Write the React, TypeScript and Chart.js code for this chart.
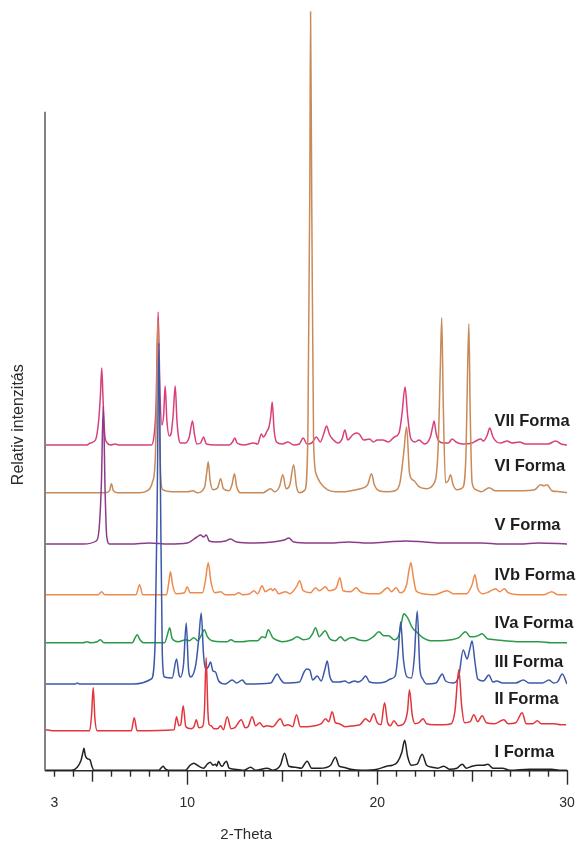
import React, { useEffect, useRef } from "react";
import { Chart, registerables } from "chart.js";

Chart.register(...registerables);

// ---- axis ranges / labels ----
const X_MIN = 2.5;
const X_MAX = 30;
const Y_MAX = 760;
const Y_AXIS_TOP = 659;
const xTickValues = [3, 4, 5, 6, 7, 8, 9, 10, 11, 12, 13, 14, 15, 16, 17, 18, 19, 20, 21, 22, 23, 24, 25, 26, 27, 28, 29, 30];
const xTickLabels = [3, 10, 20, 30];
const xAxisTitle = "2-Theta";
const yAxisTitle = "Relativ intenzitás";

// ---- series (2θ, relative intensity above own baseline) ----
const seriesNames = ["I Forma", "II Forma", "III Forma", "IVa Forma", "IVb Forma", "V Forma", "VI Forma", "VII Forma"];
const seriesOffsets = [0.5, 40, 86.7, 128, 176, 226.7, 278, 325.7];
const seriesLabelLevels = [18, 71.7, 108, 147.7, 195.7, 245.7, 304, 349];
const seriesColors = ["#222222", "#e2363c", "#3e58a8", "#2b9a48", "#ef8a4f", "#8c3b8a", "#c88a58", "#d8407c"];

const formaI: [number, number][] = [[2.55,0],[3.9,0],[4.2,3],[4.4,10],[4.5,18],[4.55,22],[4.62,15],[4.7,12],[4.8,11],[4.88,10],[4.97,4],[5.07,0],[8.5,0],[8.65,3],[8.73,4],[8.85,1],[9.0,0],[9.9,0],[10.15,5],[10.34,7],[10.6,4],[10.85,2],[11.05,6],[11.2,8],[11.35,5],[11.48,6],[11.55,4],[11.64,9],[11.75,5],[11.85,4],[11.95,7],[12.06,9],[12.2,2],[12.5,1],[13.0,0],[13.33,3],[13.6,0],[14.2,2],[14.5,0],[14.9,5],[15.12,17],[15.35,4],[15.7,3],[16.0,2],[16.31,9],[16.55,2],[17.0,2],[17.55,5],[17.8,13],[18.0,4],[18.2,3],[18.6,1],[19.2,0],[20.0,1],[20.5,4],[20.8,5],[21.06,8],[21.3,18],[21.45,30],[21.6,14],[21.8,5],[22.1,6],[22.37,16],[22.6,5],[22.9,3],[23.2,2],[23.51,4],[23.8,1],[24.2,2],[24.48,6],[24.7,2],[25.0,4],[25.3,5],[25.6,5],[25.83,6],[26.1,2],[26.6,2],[27.0,0],[28.0,1],[29.2,1],[29.6,0],[30.0,0]];

const formaII: [number, number][] = [[2.55,1],[2.9,0],[4.85,0],[4.95,15],[5.04,43],[5.13,12],[5.25,0],[7.05,0],[7.2,13],[7.35,0],[9.3,1],[9.43,14],[9.55,5],[9.65,6],[9.78,25],[9.92,4],[10.2,2],[10.35,4],[10.47,11],[10.6,3],[10.8,4],[10.9,20],[10.99,73],[11.08,20],[11.15,6],[11.25,5],[11.4,2],[11.6,2],[11.75,5],[11.9,1],[12.1,14],[12.3,2],[12.5,3],[12.84,11],[13.05,3],[13.2,4],[13.41,14],[13.6,5],[13.81,8],[14.0,4],[14.2,5],[14.5,4],[14.9,12],[15.1,5],[15.3,6],[15.55,4],[15.75,16],[15.95,4],[16.3,4],[16.7,5],[17.05,7],[17.28,12],[17.45,9],[17.63,19],[17.8,8],[18.0,7],[18.3,4],[18.8,5],[19.1,6],[19.39,12],[19.6,9],[19.82,17],[20.0,8],[20.2,6],[20.39,28],[20.55,8],[20.7,5],[20.88,10],[21.1,5],[21.4,7],[21.6,20],[21.7,41],[21.85,15],[22.0,7],[22.2,8],[22.42,12],[22.6,7],[23.0,6],[23.5,6],[23.9,7],[24.1,20],[24.3,61],[24.45,25],[24.6,8],[24.9,9],[25.09,16],[25.3,9],[25.53,15],[25.75,8],[26.2,7],[26.67,11],[26.9,7],[27.3,8],[27.64,18],[27.85,7],[28.2,7],[28.43,10],[28.65,7],[29.0,7],[29.3,7],[29.7,6],[29.95,6]];

const formaIII: [number, number][] = [[2.55,0],[4.1,0],[4.2,1],[4.3,0],[7.2,0],[8.1,5],[8.3,40],[8.42,200],[8.5,341],[8.58,200],[8.68,30],[8.8,7],[9.2,6],[9.43,25],[9.56,9],[9.64,7],[9.8,20],[9.94,61],[10.06,15],[10.18,7],[10.45,20],[10.6,45],[10.73,71],[10.85,30],[10.96,15],[11.1,17],[11.22,22],[11.35,13],[11.48,12],[11.65,3],[12.0,0],[12.36,4],[12.6,1],[12.89,4],[13.1,0],[14.4,1],[14.6,7],[14.73,10],[14.9,5],[15.1,1],[15.9,2],[16.15,12],[16.28,15],[16.45,14],[16.6,4],[16.84,8],[17.05,3],[17.25,15],[17.37,23],[17.5,8],[17.7,2],[18.0,2],[18.3,3],[18.5,1],[18.8,3],[19.0,2],[19.2,4],[19.39,8],[19.6,2],[20.0,1],[20.4,2],[20.7,5],[20.95,8],[21.1,30],[21.24,62],[21.38,25],[21.58,7],[21.8,6],[21.95,25],[22.11,73],[22.25,15],[22.4,5],[22.6,0],[23.1,1],[23.3,7],[23.43,10],[23.6,3],[24.0,1],[24.3,8],[24.53,34],[24.74,25],[24.88,35],[25.0,43],[25.15,22],[25.3,5],[25.6,3],[25.88,9],[26.1,2],[26.3,3],[26.6,1],[27.3,1],[27.7,4],[28.0,1],[28.7,1],[29.05,4],[29.3,1],[29.5,2],[29.75,10],[30.0,0]];

const formaIVa: [number, number][] = [[2.55,0],[4.5,0],[4.72,1],[4.9,0],[5.25,1],[5.42,3],[5.6,0],[7.1,0],[7.25,5],[7.36,8],[7.5,3],[7.7,0],[8.8,0],[8.95,8],[9.07,15],[9.2,4],[9.5,1],[9.93,3],[10.1,2],[10.34,5],[10.55,2],[10.75,8],[10.9,13],[11.05,6],[11.3,2],[11.8,1],[12.1,1],[12.3,3],[12.5,1],[12.9,1],[13.3,2],[13.7,2],[13.94,6],[14.1,5],[14.26,13],[14.5,5],[14.8,2],[15.0,1],[15.5,3],[15.79,6],[16.1,3],[16.4,4],[16.6,9],[16.75,15],[16.95,6],[17.1,9],[17.25,12],[17.5,4],[17.8,2],[18.07,6],[18.3,2],[18.6,5],[18.77,5],[19.0,3],[19.4,2],[19.8,6],[20.09,11],[20.35,7],[20.6,7],[20.9,3],[21.15,8],[21.28,20],[21.4,29],[21.6,25],[21.85,15],[22.11,10],[22.4,5],[22.8,2],[23.3,2],[23.9,3],[24.3,5],[24.65,11],[24.9,6],[25.09,6],[25.3,7],[25.53,9],[25.8,4],[26.2,3],[26.7,2],[27.5,1],[28.5,1],[29.2,0],[30.0,0]];

const formaIVb: [number, number][] = [[2.55,0],[5.3,0],[5.48,3],[5.65,0],[7.3,0],[7.48,10],[7.65,0],[8.9,0],[9.02,12],[9.11,23],[9.22,10],[9.4,1],[9.85,2],[9.99,8],[10.15,2],[10.8,2],[10.95,14],[11.1,32],[11.25,12],[11.45,2],[11.75,3],[12.0,0],[12.5,0],[12.7,2],[12.9,0],[13.3,1],[13.5,4],[13.7,1],[13.94,9],[14.1,3],[14.4,6],[14.5,4],[14.6,6],[14.8,1],[15.17,3],[15.4,1],[15.75,8],[15.92,14],[16.1,4],[16.5,2],[16.75,7],[16.95,4],[17.28,8],[17.45,4],[17.85,7],[18.03,17],[18.2,4],[18.6,3],[18.9,7],[19.1,3],[19.6,1],[20.1,1],[20.55,7],[20.75,3],[21.0,7],[21.2,2],[21.55,10],[21.68,25],[21.78,32],[21.9,18],[22.05,4],[22.4,1],[23.0,0],[23.69,4],[24.0,1],[24.7,1],[25.0,10],[25.15,20],[25.3,6],[25.6,1],[25.9,3],[26.24,6],[26.45,3],[26.7,6],[26.9,2],[27.5,0],[28.8,0],[29.2,3],[29.5,0],[30.0,0]];

const formaV: [number, number][] = [[2.55,0],[4.5,0],[5.2,3],[5.35,15],[5.47,60],[5.57,138],[5.67,50],[5.75,8],[5.9,0],[7.0,0],[8.0,1],[9.0,0],[10.0,1],[10.5,7],[10.7,9],[10.85,7],[11.0,9],[11.15,3],[11.5,2],[12.0,3],[12.27,5],[12.6,2],[13.5,1],[14.5,2],[15.1,4],[15.35,6],[15.6,2],[16.5,1],[17.5,1],[18.5,2],[19.5,1],[20.5,2],[21.5,3],[22.5,2],[23.5,1],[24.5,1],[25.5,1],[26.5,0],[27.5,0],[28.5,1],[30.0,0]];

const formaVI: [number, number][] = [[2.55,0],[5.7,0],[5.9,2],[6.0,9],[6.1,2],[6.3,0],[7.5,0],[7.9,2],[8.15,10],[8.3,30],[8.38,90],[8.45,173],[8.52,80],[8.6,15],[8.7,3],[9.2,1],[10.0,1],[10.3,2],[10.5,0],[10.9,5],[11.02,20],[11.1,31],[11.2,12],[11.35,3],[11.6,5],[11.75,14],[11.9,4],[12.2,2],[12.35,8],[12.48,19],[12.6,6],[12.8,0],[14.0,0],[14.38,4],[14.6,1],[14.85,6],[15.03,18],[15.2,4],[15.4,8],[15.6,28],[15.75,6],[15.9,0],[16.2,3],[16.35,60],[16.45,300],[16.49,481],[16.55,300],[16.65,50],[16.8,18],[17.0,10],[17.37,3],[17.8,1],[18.3,1],[18.9,3],[19.3,5],[19.5,8],[19.7,19],[19.85,8],[20.1,2],[20.5,1],[20.95,2],[21.2,10],[21.4,40],[21.55,66],[21.7,20],[21.85,13],[21.95,12],[22.2,6],[22.6,4],[22.95,8],[23.2,40],[23.32,120],[23.4,175],[23.48,90],[23.6,10],[23.75,12],[23.86,18],[24.0,8],[24.2,3],[24.5,5],[24.68,40],[24.76,120],[24.83,169],[24.9,80],[25.0,10],[25.2,3],[25.5,1],[25.9,5],[26.2,2],[26.8,2],[27.5,2],[28.3,3],[28.6,8],[28.8,7],[28.95,8],[29.2,2],[29.6,1],[30.0,0]];

const formaVII: [number, number][] = [[2.55,0],[4.7,0],[4.9,2],[5.16,5],[5.33,25],[5.42,50],[5.49,77],[5.56,45],[5.65,10],[5.78,2],[5.95,0],[6.2,1],[6.4,0],[8.1,0],[8.25,10],[8.35,40],[8.46,133],[8.56,50],[8.66,20],[8.75,30],[8.83,59],[8.92,25],[9.05,9],[9.15,12],[9.25,30],[9.36,59],[9.45,25],[9.55,6],[9.64,2],[9.9,2],[10.1,8],[10.27,24],[10.38,10],[10.5,1],[10.7,2],[10.85,8],[11.0,1],[11.5,0],[12.2,0],[12.38,3],[12.5,7],[12.62,2],[13.0,0],[13.48,2],[13.7,1],[13.9,11],[14.0,8],[14.2,14],[14.3,18],[14.4,30],[14.47,43],[14.57,15],[14.7,3],[15.0,1],[15.3,3],[15.6,0],[15.9,1],[16.1,7],[16.3,1],[16.55,2],[16.8,8],[17.0,3],[17.2,12],[17.33,19],[17.5,10],[17.7,5],[17.95,2],[18.15,6],[18.3,15],[18.45,5],[18.7,10],[18.9,12],[19.05,11],[19.3,5],[19.6,6],[19.8,3],[20.0,5],[20.3,5],[20.6,3],[20.9,8],[21.15,12],[21.3,30],[21.47,58],[21.6,30],[21.76,7],[22.0,3],[22.2,5],[22.5,1],[22.8,8],[22.92,18],[23.0,24],[23.1,12],[23.25,4],[23.5,2],[23.75,2],[23.95,6],[24.15,3],[24.5,1],[25.0,2],[25.2,4],[25.45,6],[25.6,4],[25.8,10],[25.93,17],[26.1,8],[26.3,3],[26.5,2],[26.85,4],[27.1,2],[27.5,3],[27.8,1],[28.5,1],[29.0,1],[29.4,4],[29.7,1],[30.0,0]];

const seriesData = [formaI, formaII, formaIII, formaIVa, formaIVb, formaV, formaVI, formaVII];

const FONT = "'Liberation Sans', Arial, sans-serif";
const LABEL_X = 26.18;

const decorPlugin = {
  id: "xrdDecor",
  beforeDatasetsDraw(chart: any) {
    const { ctx, chartArea } = chart;
    const xs = chart.scales.x;
    const ys = chart.scales.y;
    const y0 = ys.getPixelForValue(0);
    ctx.save();
    // y axis line (shorter than plot area)
    ctx.strokeStyle = "#5a5a5a";
    ctx.lineWidth = 1.5;
    ctx.beginPath();
    ctx.moveTo(chartArea.left, ys.getPixelForValue(Y_AXIS_TOP));
    ctx.lineTo(chartArea.left, y0);
    ctx.stroke();
    // x axis line
    ctx.strokeStyle = "#2a2a2a";
    ctx.lineWidth = 1.6;
    ctx.beginPath();
    ctx.moveTo(chartArea.left, y0);
    ctx.lineTo(xs.getPixelForValue(X_MAX) + 1, y0);
    ctx.stroke();
    // ticks
    ctx.lineWidth = 1.4;
    xTickValues.forEach((t) => {
      const px = Math.round(xs.getPixelForValue(t)) + 0.5;
      const len = t % 10 === 0 ? 14 : t % 5 === 0 ? 11 : 6;
      ctx.beginPath();
      ctx.moveTo(px, y0);
      ctx.lineTo(px, y0 + len);
      ctx.stroke();
    });
    ctx.restore();
  },
  afterDraw(chart: any) {
    const { ctx } = chart;
    const xs = chart.scales.x;
    const ys = chart.scales.y;
    const y0 = ys.getPixelForValue(0);
    ctx.save();
    ctx.fillStyle = "#2b2b2b";
    ctx.textAlign = "center";
    ctx.textBaseline = "middle";
    ctx.font = `14px ${FONT}`;
    xTickLabels.forEach((t) => {
      ctx.fillText(String(t), xs.getPixelForValue(t), y0 + 32);
    });
    ctx.font = `15px ${FONT}`;
    ctx.fillText(xAxisTitle, xs.getPixelForValue(13.1), y0 + 64);
    // y title
    ctx.save();
    ctx.translate(19, ys.getPixelForValue(346));
    ctx.rotate(-Math.PI / 2);
    ctx.font = `16px ${FONT}`;
    ctx.fillText(yAxisTitle, 0, 0);
    ctx.restore();
    // series labels
    ctx.textAlign = "left";
    ctx.font = `bold 16.5px ${FONT}`;
    ctx.fillStyle = "#1e1e1e";
    seriesNames.forEach((name, i) => {
      ctx.fillText(name, xs.getPixelForValue(LABEL_X), ys.getPixelForValue(seriesLabelLevels[i]));
    });
    ctx.restore();
  },
};

export default function App() {
  const canvasRef = useRef<HTMLCanvasElement | null>(null);

  useEffect(() => {
    const canvas = canvasRef.current;
    if (!canvas) return;
    const datasets = seriesData.map((pts, i) => ({
      label: seriesNames[i],
      data: pts.map(([x, h]) => ({ x, y: h + seriesOffsets[i] })),
      borderColor: seriesColors[i],
      backgroundColor: seriesColors[i],
      borderWidth: 1.5,
      pointRadius: 0,
      cubicInterpolationMode: "monotone",
      fill: false,
    }));
    const chart = new Chart(canvas, {
      type: "line",
      data: { datasets },
      options: {
        animation: false,
        responsive: false,
        parsing: false,
        layout: { padding: { left: 45, right: 10, top: 10.7, bottom: 74.3 } },
        plugins: { legend: { display: false }, tooltip: { enabled: false } },
        scales: {
          x: { type: "linear", min: X_MIN, max: X_MAX, display: false },
          y: { type: "linear", min: 0, max: Y_MAX, display: false },
        },
      },
      plugins: [decorPlugin],
    } as any);
    return () => chart.destroy();
  }, []);

  return (
    <div style={{ position: "absolute", left: 0, top: 0, width: 577, height: 845, background: "#fff" }}>
      <canvas ref={canvasRef} width={577} height={845} style={{ display: "block" }} />
    </div>
  );
}
